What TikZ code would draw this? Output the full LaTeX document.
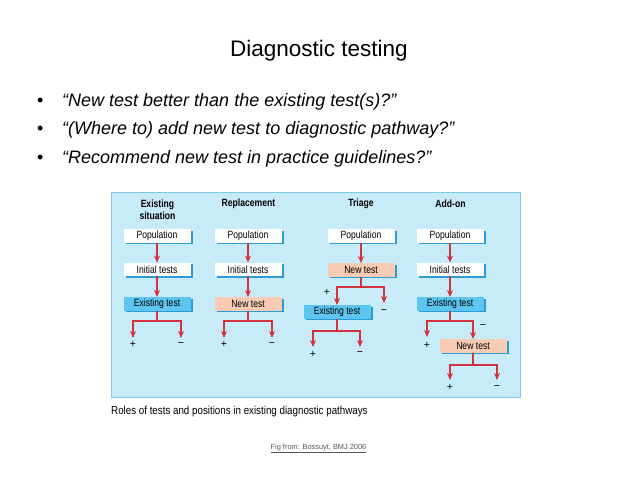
\documentclass[tikz,border=0pt]{standalone}
\usepackage{fontspec}
\setmainfont{Liberation Sans}
\newfontfamily\cond[FakeStretch=0.82]{Liberation Sans}
\newfontfamily\capfont[FakeStretch=0.85]{Liberation Sans}
\usetikzlibrary{arrows.meta,shadows}
\definecolor{panelfill}{HTML}{C8EBFA}
\definecolor{panelborder}{HTML}{7EC9EC}
\definecolor{testblue}{HTML}{5CC6F0}
\definecolor{shadowblue}{HTML}{2E9BD6}
\definecolor{salmon}{HTML}{F8CCB4}
\definecolor{arrred}{HTML}{D2323C}
\definecolor{figgray}{HTML}{555555}
\tikzset{
  box/.style={minimum width=67pt, minimum height=13.5pt, inner sep=0pt,
    font=\cond\fontsize{10.5}{12}\selectfont,
    drop shadow={shadow xshift=2pt, shadow yshift=-1.5pt, fill=shadowblue, opacity=1}},
  whitebox/.style={box, fill=white},
  bluebox/.style={box, fill=testblue},
  newbox/.style={box, fill=salmon},
  heading/.style={font=\cond\bfseries\fontsize{10.5}{12}\selectfont, align=center, inner sep=0pt},
  sign/.style={font=\fontsize{10.5}{11}\selectfont, inner sep=0pt},
  arr/.style={draw=arrred, line width=1.5pt, -{Stealth[length=7pt,width=6pt]}},
  bullettext/.style={anchor=base west, inner sep=0pt, font=\fontsize{18}{22}\selectfont\itshape},
  bulletmark/.style={anchor=base west, inner sep=0pt, font=\fontsize{18}{22}\selectfont}
}
\begin{document}
\begin{tikzpicture}[x=1pt,y=-1pt]
\useasboundingbox[fill=white] (0,0) rectangle (638,479);

% title and bullets
\node[anchor=base, inner sep=0pt, font=\fontsize{22.5}{26}\selectfont] (title) at (319,56.5) {Diagnostic testing};
\node[bulletmark] (m1) at (37,106) {•};
\node[bullettext] (b1) at (62,106) {“New test better than the existing test(s)?”};
\node[bulletmark] (m2) at (37,134.5) {•};
\node[bullettext] (b2) at (62,134.5) {“(Where to) add new test to diagnostic pathway?”};
\node[bulletmark] (m3) at (37,163) {•};
\node[bullettext] (b3) at (62,163) {“Recommend new test in practice guidelines?”};

% panel
\draw[draw=panelborder, fill=panelfill, line width=0.8pt] (111,192) rectangle (520,397);

% headings
\node[heading] (h1) at (157.5,210) {Existing\\situation};
\node[heading] (h2) at (248.5,204) {Replacement};
\node[heading] (h3) at (361,204) {Triage};
\node[heading] (h4) at (450.5,204) {Add-on};

% column 1: existing situation
\node[whitebox] (p1) at (157,236) {Population};
\node[whitebox] (i1) at (157,269.5) {Initial tests};
\node[bluebox] (e1) at (157,304) {Existing test};
\draw[arr] (p1) -- (i1);
\draw[arr] (i1) -- (e1);
\coordinate (e1p) at (133,338);
\coordinate (e1m) at (181,338);
\draw[arr] (e1.south) -- ++(0,10) -| (e1p);
\draw[arr] (e1.south) -- ++(0,10) -| (e1m);
\node[sign] (e1pl) at (133,344.5) {+};
\node[sign] (e1ml) at (181,344.5) {−};

% column 2: replacement
\node[whitebox] (p2) at (248,236) {Population};
\node[whitebox] (i2) at (248,269.5) {Initial tests};
\node[newbox] (n2) at (248,304) {New test};
\draw[arr] (p2) -- (i2);
\draw[arr] (i2) -- (n2);
\coordinate (n2p) at (224,338);
\coordinate (n2m) at (272,338);
\draw[arr] (n2.south) -- ++(0,10) -| (n2p);
\draw[arr] (n2.south) -- ++(0,10) -| (n2m);
\node[sign] (n2pl) at (224,344.5) {+};
\node[sign] (n2ml) at (272,344.5) {−};

% column 3: triage
\node[whitebox] (p3) at (361,236) {Population};
\node[newbox] (n3) at (361,270) {New test};
\node[bluebox] (e3) at (337,312) {Existing test};
\draw[arr] (p3) -- (n3);
\coordinate (n3m) at (384,303);
\draw[arr] (n3.south) -- ++(0,10) -| (e3.north);
\draw[arr] (n3.south) -- ++(0,10) -| (n3m);
\node[sign] (n3pl) at (327,292) {+};
\node[sign] (n3ml) at (384,312) {−};
\coordinate (e3p) at (313,347);
\coordinate (e3m) at (360,347);
\draw[arr] (e3.south) -- ++(0,12) -| (e3p);
\draw[arr] (e3.south) -- ++(0,12) -| (e3m);
\node[sign] (e3pl) at (313,354) {+};
\node[sign] (e3ml) at (360,354) {−};

% column 4: add-on
\node[whitebox] (p4) at (450,236) {Population};
\node[whitebox] (i4) at (450,269.5) {Initial tests};
\node[bluebox] (e4) at (450,304) {Existing test};
\node[newbox] (n4) at (473,346) {New test};
\draw[arr] (p4) -- (i4);
\draw[arr] (i4) -- (e4);
\coordinate (e4p) at (427,337);
\draw[arr] (e4.south) -- ++(0,10) -| (e4p);
\draw[arr] (e4.south) -- ++(0,10) -| (n4.north);
\node[sign] (e4pl) at (427,345) {+};
\node[sign] (e4ml) at (483,327) {−};
\coordinate (n4p) at (450,380);
\coordinate (n4m) at (497,380);
\draw[arr] (n4.south) -- ++(0,12) -| (n4p);
\draw[arr] (n4.south) -- ++(0,12) -| (n4m);
\node[sign] (n4pl) at (450,387.5) {+};
\node[sign] (n4ml) at (497,387.5) {−};

% caption
\node[anchor=base west, inner sep=0pt, font=\capfont\fontsize{11.5}{13}\selectfont] (cap) at (111,414) {Roles of tests and positions in existing diagnostic pathways};
\node[anchor=base, inner sep=0pt, font=\fontsize{7.4}{9}\selectfont, text=figgray] (fig) at (318.5,449) {\underline{Fig from: Bossuyt, BMJ 2006}};
\end{tikzpicture}
\end{document}
